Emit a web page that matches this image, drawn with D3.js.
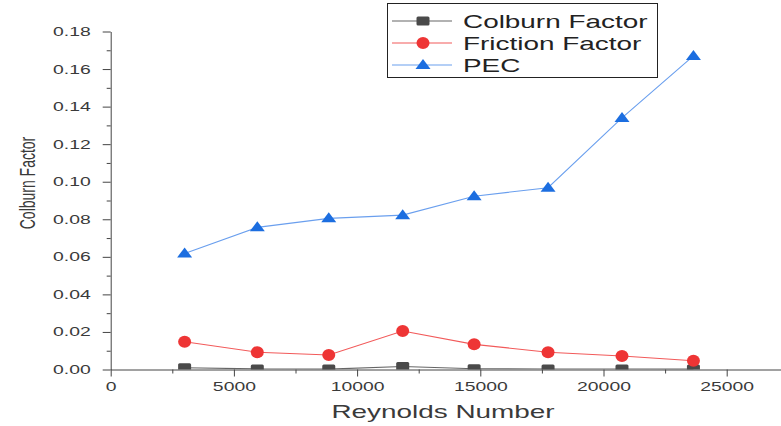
<!DOCTYPE html>
<html>
<head>
<meta charset="utf-8">
<script src="https://cdn.jsdelivr.net/npm/d3@7"></script>
<style>
  html, body { margin: 0; padding: 0; background: #fff; }
  svg { display: block; }
  text { font-family: "Liberation Sans", Arial, sans-serif; }
</style>
</head>
<body>
<svg id="chart" width="781" height="426"></svg>
<script>
// Reynolds numbers of the eight test points
const reynolds = [3000, 5950, 8850, 11850, 14750, 17750, 20750, 23650];
// Series values
const colburnFactor  = [0.0009, 0.0003, 0.0002, 0.0016, 0.0004, 0.0003, 0.0003, 0.0002];
const frictionFactor = [0.0148, 0.0092, 0.0077, 0.0205, 0.0134, 0.0092, 0.0072, 0.0047];
const pecValues      = [0.0618, 0.0757, 0.0805, 0.0822, 0.0923, 0.0968, 0.1340, 0.1670];
// Series names
const seriesNames = ["Colburn Factor", "Friction Factor", "PEC"];
// Axis ticks
const xTicks = [0, 5000, 10000, 15000, 20000, 25000];
const xMinorTicks = [2500, 7500, 12500, 17500, 22500];
const yTicks = [0, 0.02, 0.04, 0.06, 0.08, 0.10, 0.12, 0.14, 0.16, 0.18];
const yMinorTicks = [0.01, 0.03, 0.05, 0.07, 0.09, 0.11, 0.13, 0.15, 0.17];

const SX = 1.55; // horizontal glyph stretch used for all text

const svg = d3.select("#chart");

const x = d3.scaleLinear().domain([0, 25000]).range([110.7, 726.7]);
const y = d3.scaleLinear().domain([0, 0.18]).range([369.5, 31.5]);

const axisColor = "#444";
const textColor = "#3a3a3a";

function styleAxis(g) {
  g.select(".domain").attr("stroke", axisColor).attr("stroke-width", 1);
  g.selectAll(".tick line").attr("stroke", axisColor).attr("stroke-width", 1);
}

// ---- y axis ----
const gy = svg.append("g").attr("transform", `translate(${x(0)},0)`);
gy.call(d3.axisLeft(y).tickValues(yTicks).tickSize(8).tickPadding(12)
        .tickFormat(d3.format(".2f")).tickSizeOuter(0));
styleAxis(gy);
gy.selectAll(".tick text")
  .attr("fill", textColor).attr("font-size", 12.5)
  .each(function () {
    const t = d3.select(this);
    t.attr("x", +t.attr("x") / SX).attr("transform", `scale(${SX},1)`);
  });
const gyMinor = svg.append("g").attr("transform", `translate(${x(0)},0)`);
gyMinor.call(d3.axisLeft(y).tickValues(yMinorTicks).tickSize(4).tickFormat(""));
gyMinor.select(".domain").remove();
gyMinor.selectAll(".tick line").attr("stroke", axisColor);

// ---- x axis (line runs to the right edge) ----
const xExt = x.copy().domain([0, x.invert(781)]).range([x(0), 781]);
const gx = svg.append("g").attr("transform", `translate(0,${y(0)})`);
gx.call(d3.axisBottom(xExt).tickValues(xTicks).tickSize(7).tickPadding(6)
        .tickFormat(d3.format("d")).tickSizeOuter(0));
styleAxis(gx);
gx.selectAll(".tick text")
  .attr("fill", textColor).attr("font-size", 12.5)
  .attr("transform", `scale(${SX},1)`);
const gxMinor = svg.append("g").attr("transform", `translate(0,${y(0)})`);
gxMinor.call(d3.axisBottom(xExt).tickValues(xMinorTicks).tickSize(4).tickFormat(""));
gxMinor.select(".domain").remove();
gxMinor.selectAll(".tick line").attr("stroke", axisColor);

// ---- axis titles ----
svg.append("text")
  .attr("transform", `translate(443,418) scale(${SX},1)`)
  .attr("text-anchor", "middle").attr("font-size", 18).attr("fill", textColor)
  .text("Reynolds Number");

svg.append("text")
  .attr("transform", `translate(35,183) rotate(-90) scale(1,1.6)`)
  .attr("text-anchor", "middle").attr("font-size", 14).attr("fill", textColor)
  .text("Colburn Factor");

// ---- plot area clip ----
svg.append("defs").append("clipPath").attr("id", "plotClip")
  .append("rect").attr("x", x(0)).attr("y", 0)
  .attr("width", 781 - x(0)).attr("height", y(0));

const plot = svg.append("g").attr("clip-path", "url(#plotClip)");

const series = [
  { name: seriesNames[0], values: colburnFactor,  line: "#666666", fill: "#4a4a4a", shape: "square" },
  { name: seriesNames[1], values: frictionFactor, line: "#f25a5a", fill: "#ee3535", shape: "circle" },
  { name: seriesNames[2], values: pecValues,      line: "#6a9fee", fill: "#1c6ee0", shape: "triangle" }
];

function drawMarker(g, shape, cx, cy, color) {
  if (shape === "square") {
    g.append("rect").attr("x", cx - 6.5).attr("y", cy - 4.5)
      .attr("width", 13).attr("height", 9).attr("rx", 1.5).attr("fill", color);
  } else if (shape === "circle") {
    g.append("ellipse").attr("cx", cx).attr("cy", cy)
      .attr("rx", 6.5).attr("ry", 6).attr("fill", color);
  } else {
    g.append("path")
      .attr("d", `M${cx},${cy - 6}L${cx + 7.5},${cy + 4}L${cx - 7.5},${cy + 4}Z`)
      .attr("fill", color);
  }
}

const line = d3.line();
series.forEach(s => {
  const pts = reynolds.map((r, i) => [x(r), y(s.values[i])]);
  plot.append("path").attr("d", line(pts))
    .attr("fill", "none").attr("stroke", s.line).attr("stroke-width", 1.1);
  pts.forEach(p => drawMarker(plot, s.shape, p[0], p[1], s.fill));
});

// ---- legend ----
const legend = svg.append("g");
legend.append("rect").attr("x", 387.5).attr("y", 3.5).attr("width", 270).attr("height", 74)
  .attr("fill", "#fff").attr("stroke", "#222").attr("stroke-width", 1);
series.forEach((s, i) => {
  const cy = 21 + i * 22;
  legend.append("line").attr("x1", 392).attr("x2", 452).attr("y1", cy).attr("y2", cy)
    .attr("stroke", s.line).attr("stroke-width", 1.1);
  drawMarker(legend, s.shape, 423, cy, s.fill);
  legend.append("text")
    .attr("transform", `translate(463,${cy + 6.5}) scale(${SX},1)`)
    .attr("font-size", 18).attr("fill", "#222")
    .text(s.name);
});
</script>
</body>
</html>
